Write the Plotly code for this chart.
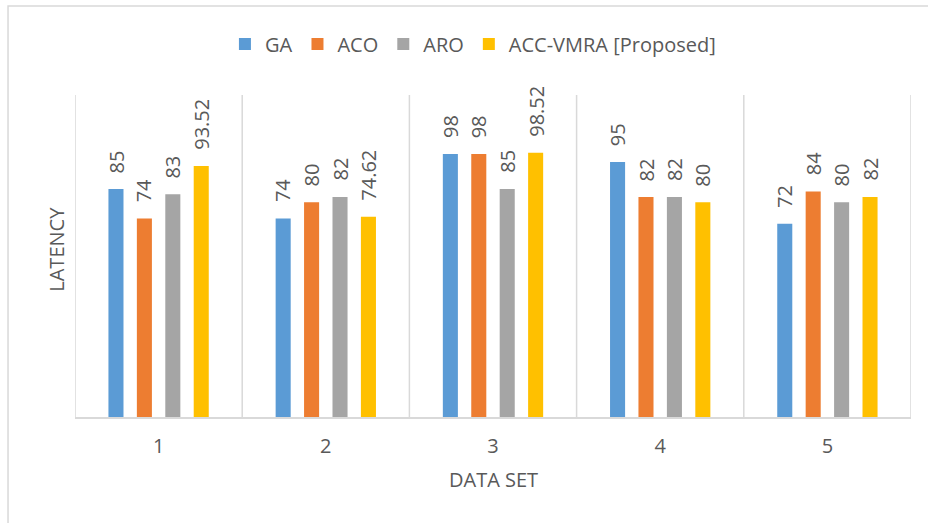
import plotly.graph_objects as go

# Latency per data set for each scheduling algorithm
categories = ["1", "2", "3", "4", "5"]
series_names = ["GA", "ACO", "ARO", "ACC-VMRA [Proposed]"]
ga = [85, 74, 98, 95, 72]
aco = [74, 80, 98, 82, 84]
aro = [83, 82, 85, 82, 80]
acc_vmra = [93.52, 74.62, 98.52, 80, 82]
colors = ["#5B9BD5", "#ED7D31", "#A5A5A5", "#FFC000"]

series_values = [ga, aco, aro, acc_vmra]

FONT = "Open Sans"
TEXT_COLOR = "#595959"
GRID_COLOR = "#D9D9D9"
FS = 20

# bar geometry in category units
slot = 0.17
bar_w = 0.09

x_pos = list(range(1, len(categories) + 1))

fig = go.Figure()
annotations = []
for k, (name, vals, col) in enumerate(zip(series_names, series_values, colors)):
    center = (k - (len(series_names) - 1) / 2) * slot
    fig.add_trace(go.Bar(
        name=name,
        x=x_pos,
        y=vals,
        width=bar_w,
        offset=center - bar_w / 2,
        marker=dict(color=col, line=dict(width=0)),
        hoverinfo="y+name",
    ))
    for xi, v in zip(x_pos, vals):
        annotations.append(dict(
            x=xi + center, y=v, xref="x", yref="y",
            text=f"{v:g}", showarrow=False, textangle=-90,
            xanchor="center", yanchor="bottom", yshift=14,
            font=dict(family=FONT, size=FS, color=TEXT_COLOR),
        ))

# axis titles
annotations.append(dict(
    x=0.5, y=-0.195, xref="paper", yref="paper", text="DATA SET",
    showarrow=False, xanchor="center", yanchor="middle",
    font=dict(family=FONT, size=FS, color=TEXT_COLOR),
))
annotations.append(dict(
    x=-0.004, y=0.52, xref="paper", yref="paper", text="LATENCY",
    showarrow=False, textangle=-90, xanchor="right", yanchor="middle",
    font=dict(family=FONT, size=FS, color=TEXT_COLOR),
))

shapes = []
# vertical separators between data sets
for b in range(len(categories) + 1):
    shapes.append(dict(
        type="line", xref="x", yref="paper",
        x0=b + 0.5, x1=b + 0.5, y0=0, y1=1,
        line=dict(color=GRID_COLOR, width=1.5), layer="below",
    ))
# chart frame
shapes.append(dict(
    type="rect", xref="paper", yref="paper",
    x0=-0.0801, x1=1.06, y0=-0.40, y1=1.2764,
    line=dict(color=GRID_COLOR, width=1.5), layer="below",
))

fig.update_layout(
    width=928, height=523,
    margin=dict(l=75, r=17, t=95, b=106),
    paper_bgcolor="white", plot_bgcolor="white",
    barmode="overlay",
    font=dict(family=FONT, size=FS, color=TEXT_COLOR),
    showlegend=True,
    legend=dict(
        orientation="h", x=0.476, xanchor="center", y=1.158, yanchor="middle",
        font=dict(family=FONT, size=FS, color=TEXT_COLOR),
        itemwidth=30, traceorder="normal", bgcolor="rgba(0,0,0,0)",
    ),
    xaxis=dict(
        range=[0.5, len(categories) + 0.5],
        tickvals=x_pos, ticktext=categories,
        showgrid=False, zeroline=False, ticks="",
        showline=True, linecolor=GRID_COLOR, linewidth=1.5,
        ticklabelstandoff=10,
        tickfont=dict(family=FONT, size=FS, color=TEXT_COLOR),
        fixedrange=True,
    ),
    yaxis=dict(
        range=[0, 120], showgrid=False, zeroline=False,
        showticklabels=False, showline=False, ticks="", fixedrange=True,
    ),
    annotations=annotations,
    shapes=shapes,
)

fig.write_html("out.html")
